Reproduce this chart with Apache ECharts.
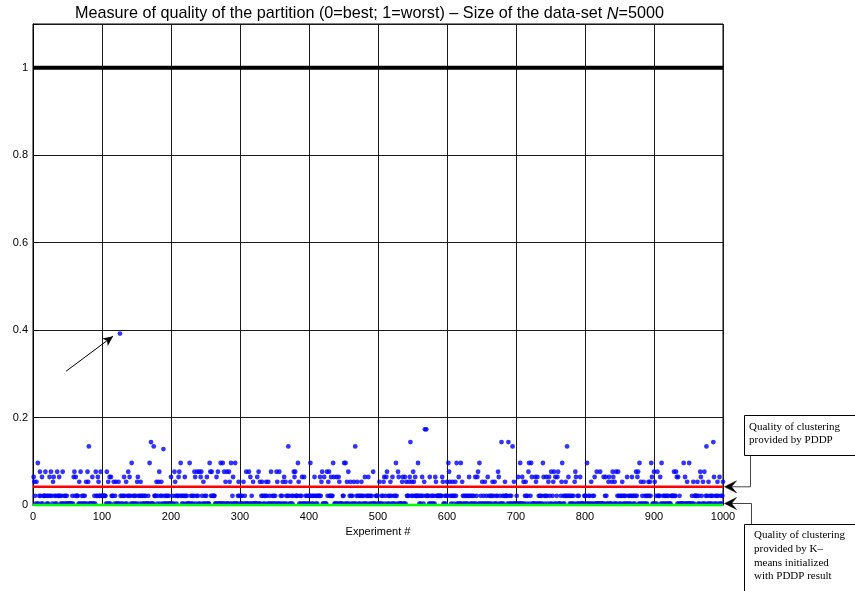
<!DOCTYPE html>
<html>
<head>
<meta charset="utf-8">
<title>Partition quality</title>
<script src="https://cdn.jsdelivr.net/npm/echarts@6/dist/echarts.min.js"></script>
<style>
  html, body { margin: 0; padding: 0; background: #fff; }
  #chart { width: 855px; height: 591px; }
</style>
</head>
<body>
<div id="chart"></div>
<script>
// Quality level for each code character (0 = best partition, 1 = worst)
const levelOf = {
  '0': 0.003, '1': 0.021, '2': 0.053, '3': 0.064, '4': 0.076,
  '5': 0.096, '6': 0.128, '7': 0.134, '8': 0.144, '9': 0.173, 'x': 0.392
};

// PDDP partition quality, one code per experiment (experiments 1..1000),
// one row per hundred experiments, groups of ten
const pddpRows = [
  "3210205014 1030111410 1013141023 1010411310 1040101010 0000001034 1311102040 1010102042 7000030010 4113211411",
  "1111104020 3031112012 00020x1010 1310201413 1050101010 2310121010 1010001050 8000711120 1240121060 1010101003",
  "0010421011 3415101013 1010005010 1014301410 4034102010 1300054141 1110030400 0500504020 4004205013 0050001210",
  "1010201040 0040301020 0000304020 1210101210 2010401010 1042004010 1203021017 1020101434 1115201013 0030101010",
  "1510101310 1011131240 0300041241 1311530003 0032000011 5050204012 1010207012 1010121010 3010131010 1040001110",
  "0200101230 1340101210 3010151043 0000230030 2111238121 4213111510 1013102919 1110301010 1032111111 1132001012",
  "1542101210 1215003005 0210101010 1310101010 3013405010 2010201030 1010121020 1014301080 1012111080 1010702000",
  "1030050030 2012101450 1530000320 3010101053 1013102310 4012403013 4000125010 1217131010 1010243010 1030000011",
  "1050101020 1013004000 0400003013 1002300024 3020401410 1012101010 3010101310 1014134050 2010201010 1212153004",
  "2010411130 5010101010 1000111141 1430301000 0050300200 5000102011 1120104310 2040171020 1010183010 1210301012"
];

// Reference levels drawn across all experiments
const worstLevel = 1;          // worst possible partition
const pddpRefLevel = 0.0416;   // red reference line for PDDP
const kmeansLevel = 0;         // K-means initialised with PDDP result
const expRange = [0, 1000];

// Axis ticks
const xTicks = [0, 100, 200, 300, 400, 500, 600, 700, 800, 900, 1000];
const yTicks = [0, 0.2, 0.4, 0.6, 0.8, 1];

// Pointer to the outlying experiment
const pointerFrom = [48, 0.306];
const pointerTo = [116, 0.386];

const titleMain = 'Measure of quality of the partition (0=best; 1=worst) \u2013 Size of the data\u2011set ';
const titleVar = 'N';
const titleTail = '=5000';
const noteTop = 'Quality of clustering\nprovided by PDDP';
const noteBottom = 'Quality of clustering\nprovided by K\u2013\nmeans initialized\nwith PDDP result';

const pddpCodes = pddpRows.join('').replace(/ /g, '');
const pddpPoints = [];
for (let i = 0; i < pddpCodes.length; i++) {
  pddpPoints.push([i + 1, levelOf[pddpCodes[i]]]);
}

const SANS = '"Liberation Sans", Arial, Helvetica, sans-serif';
const SERIF = '"Liberation Serif", "Times New Roman", serif';

const chart = echarts.init(document.getElementById('chart'), null, { renderer: 'canvas' });

chart.setOption({
  animation: false,
  backgroundColor: '#ffffff',
  grid: {
    left: 33, right: 132, top: 24, bottom: 86,
    show: true, borderColor: '#000', borderWidth: 1, backgroundColor: 'transparent'
  },
  xAxis: {
    type: 'value',
    min: xTicks[0], max: xTicks[xTicks.length - 1], interval: xTicks[1] - xTicks[0],
    axisLine: { show: true, onZero: false, lineStyle: { color: '#000', width: 1 } },
    axisTick: { show: true, inside: true, length: 5, lineStyle: { color: '#000' } },
    axisLabel: {
      color: '#000', fontFamily: SANS, fontSize: 11, margin: 6,
      formatter: function (v) { return String(Math.round(v)); }
    },
    splitLine: { show: true, lineStyle: { color: '#1a1a1a', width: 1 } },
    name: 'Experiment #', nameLocation: 'middle', nameGap: 19,
    nameTextStyle: { color: '#000', fontFamily: SANS, fontSize: 11 }
  },
  yAxis: {
    type: 'value',
    min: 0, max: 1.1, interval: yTicks[1] - yTicks[0],
    axisLine: { show: true, onZero: false, lineStyle: { color: '#000', width: 1 } },
    axisTick: { show: true, inside: true, length: 5, lineStyle: { color: '#000' } },
    axisLabel: {
      color: '#000', fontFamily: SANS, fontSize: 11, margin: 5,
      formatter: function (v) {
        if (v > 1.05) return '';
        if (Math.abs(v) < 1e-9) return '0';
        if (Math.abs(v - 1) < 1e-9) return '1';
        return (Math.round(v * 10) / 10).toString();
      }
    },
    splitLine: { show: true, lineStyle: { color: '#1a1a1a', width: 1 } }
  },
  series: [
    {
      name: 'PDDP',
      type: 'scatter',
      data: pddpPoints,
      symbol: 'circle',
      symbolSize: 4.8,
      itemStyle: { color: '#0000ff' },
      z: 3,
      silent: true
    },
    {
      name: 'worst',
      type: 'line',
      data: [[expRange[0], worstLevel], [expRange[1], worstLevel]],
      symbol: 'none',
      lineStyle: { color: '#000', width: 4 },
      z: 4,
      silent: true,
      markLine: {
        silent: true,
        symbol: ['none', 'arrow'],
        symbolSize: [7, 10],
        label: { show: false },
        lineStyle: { color: '#000', width: 1, type: 'solid' },
        data: [[{ coord: pointerFrom }, { coord: pointerTo }]]
      }
    },
    {
      name: 'PDDP reference',
      type: 'line',
      data: [[expRange[0], pddpRefLevel], [expRange[1], pddpRefLevel]],
      symbol: 'none',
      lineStyle: { color: '#ff0000', width: 2.5 },
      z: 5,
      silent: true
    },
    {
      name: 'K-means',
      type: 'line',
      data: [[expRange[0], kmeansLevel], [expRange[1], kmeansLevel]],
      symbol: 'none',
      clip: false,
      lineStyle: { color: '#00ff00', width: 2.5 },
      z: 5,
      silent: true
    }
  ]
});

// Title and side notes, placed from the axis scales
const right = chart.convertToPixel({ gridIndex: 0 }, [expRange[1], pddpRefLevel]);
const redY = right[1];
const greenY = chart.convertToPixel({ gridIndex: 0 }, [expRange[1], kmeansLevel])[1];
const axisRight = right[0];
const left = chart.convertToPixel({ gridIndex: 0 }, [expRange[0], 0])[0];

function arrowHead(tipX, y) {
  return {
    type: 'polygon',
    shape: { points: [[tipX, y], [tipX + 12, y - 6], [tipX + 7, y], [tipX + 12, y + 6]] },
    style: { fill: '#000', stroke: '#000', lineWidth: 0.5 },
    z: 20
  };
}

chart.setOption({
  graphic: [
    {
      type: 'text',
      x: (left + axisRight) / 2 - 8.5,
      y: 14,
      style: {
        text: titleMain + '{i|' + titleVar + '}' + titleTail,
        font: '16.2px ' + SANS,
        fill: '#000',
        align: 'center',
        verticalAlign: 'middle',
        rich: { i: { fontStyle: 'italic', fontFamily: SANS, fontSize: 16.2, fill: '#000' } }
      },
      z: 20
    },
    // upper note box and its connector
    {
      type: 'rect',
      shape: { x: 744.5, y: 415.5, width: 130, height: 40 },
      style: { fill: '#fff', stroke: '#000', lineWidth: 1 },
      z: 20
    },
    {
      type: 'text',
      x: 749, y: 420,
      style: { text: noteTop, font: '11px ' + SERIF, fill: '#000', lineHeight: 13.5, align: 'left', verticalAlign: 'top' },
      z: 21
    },
    {
      type: 'polyline',
      shape: { points: [[750.5, 456], [750.5, redY], [axisRight + 7, redY]] },
      style: { stroke: '#444', lineWidth: 1, fill: null },
      z: 19
    },
    arrowHead(axisRight + 1.5, redY),
    // lower note box and its connector
    {
      type: 'rect',
      shape: { x: 744.5, y: 524.5, width: 130, height: 90 },
      style: { fill: '#fff', stroke: '#000', lineWidth: 1 },
      z: 20
    },
    {
      type: 'text',
      x: 754, y: 528.5,
      style: { text: noteBottom, font: '11px ' + SERIF, fill: '#000', lineHeight: 13.7, align: 'left', verticalAlign: 'top' },
      z: 21
    },
    {
      type: 'polyline',
      shape: { points: [[751.5, 524], [751.5, greenY - 1.5], [axisRight + 7, greenY - 1.5]] },
      style: { stroke: '#444', lineWidth: 1, fill: null },
      z: 19
    },
    arrowHead(axisRight + 1.5, greenY - 1.5)
  ]
});
</script>
</body>
</html>
